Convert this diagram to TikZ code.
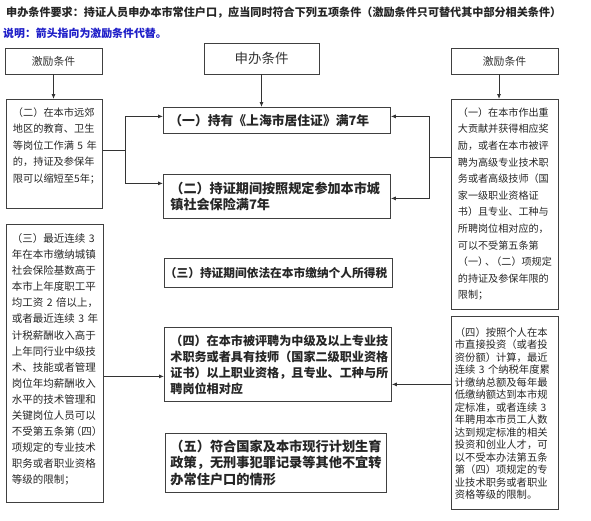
\documentclass[tikz,border=0pt]{standalone}
\usepackage{fontspec}
\setmainfont{Noto Sans CJK SC}
\usetikzlibrary{arrows.meta}
\definecolor{noteblue}{RGB}{30,30,200}
\begin{document}
\begin{tikzpicture}[x=1pt, y=-1pt,
	head/.style={draw=black!75, line width=0.8pt, minimum height=26pt, inner sep=0pt, text=black!80},
	cond/.style={draw=black!75, line width=0.8pt, anchor=north west, align=left, inner ysep=0pt, text=black!85},
	arr/.style={draw=black!80, line width=0.8pt, -{Latex[length=5pt,width=4pt]}}]
	\useasboundingbox (0,0) rectangle (591,520);
	\node[anchor=west, inner sep=0pt, text=black!85, font=\bfseries\fontsize{11.1pt}{13pt}\selectfont] (title) at (6,13) {申办条件要求：持证人员申办本市常住户口，应当同时符合下列五项条件（激励条件只可替代其中部分相关条件）};
	\node[anchor=west, inner sep=0pt, text=noteblue, font=\bfseries\fontsize{10.9pt}{13pt}\selectfont] (note) at (3,33) {说明：箭头指向为激励条件代替。};
	\node[head, minimum width=97pt, font=\fontsize{10.8pt}{13pt}\selectfont] (lhead) at (53.5,61) {激励条件};
	\node[head, minimum width=115pt, minimum height=31pt, font=\fontsize{13.5pt}{15pt}\selectfont] (mhead) at (261.5,58.5) {申办条件};
	\node[head, minimum width=107pt, font=\fontsize{10.8pt}{13pt}\selectfont] (rhead) at (504.5,61) {激励条件};
	\node[cond, inner xsep=6.5pt, text width=83pt, text height=16.9pt, text depth=92.1pt, font=\fontsize{10.2pt}{16.5pt}\selectfont] (l2) at (6,99) {（二）在本市远郊\\地区的教育、卫生\\等岗位工作满~5~年\\的，持证及参保年\\限可以缩短至5年；};
	\node[cond, inner xsep=5.5pt, text width=86pt, text height=18pt, text depth=260pt, font=\fontsize{10.5pt}{16.1pt}\selectfont] (l3) at (6,224) {（三）最近连续~3\\年在本市缴纳城镇\\社会保险基数高于\\本市上年度职工平\\均工资~2~倍以上，\\或者最近连续~3~年\\计税薪酬收入高于\\上年同行业中级技\\术、技能或者管理\\岗位年均薪酬收入\\水平的技术管理和\\关键岗位人员可以\\不受第五条第\kern-4pt（四）\\项规定的专业技术\\职务或者职业资格\\等级的限制；};
	\node[cond, inner xsep=6pt, text width=215pt, minimum height=26pt, font=\bfseries\fontsize{12.8pt}{16pt}\selectfont] (m1) at (163,107) {（一）持有《上海市居住证》满7年};
	\node[cond, inner xsep=7pt, text width=213pt, minimum height=44pt, font=\bfseries\fontsize{13.1pt}{16.7pt}\selectfont] (m2) at (163,174) {（二）持证期间按照规定参加本市城\\镇社会保险满7年};
	\node[cond, inner xsep=0.5pt, text width=227pt, minimum height=29pt, font=\bfseries\fontsize{11.7pt}{14pt}\selectfont] (m3) at (164,258) {（三）持证期间依法在本市缴纳个人所得税};
	\node[cond, inner xsep=6pt, text width=215pt, minimum height=74pt, font=\bfseries\fontsize{12.1pt}{16pt}\selectfont] (m4) at (164,327) {（四）在本市被评聘为中级及以上专业技\\术职务或者具有技师（国家二级职业资格\\证书）以上职业资格，且专业、工种与所\\聘岗位相对应};
	\node[cond, inner xsep=5pt, text width=211pt, minimum height=59pt, font=\bfseries\fontsize{13.2pt}{16.7pt}\selectfont] (m5) at (165,433) {（五）符合国家及本市现行计划生育\\政策，无刑事犯罪记录等其他不宜转\\办常住户口的情形};
	\node[cond, inner xsep=6.5pt, text width=94pt, text height=16.8pt, text depth=193.2pt, font=\fontsize{10.1pt}{16.6pt}\selectfont] (r1) at (451,99) {（一）在本市作出重\\大贡献并获得相应奖\\励，或者在本市被评\\聘为高级专业技术职\\务或者高级技师（国\\家一级职业资格证\\书）且专业、工种与\\所聘岗位相对应的，\\可以不受第五条第\\（一）\kern-3pt、\kern-4pt（二）项规定\\的持证及参保年限的\\限制；};
	\node[cond, inner xsep=3.5pt, text width=100pt, text height=19.9pt, text depth=173.1pt, font=\fontsize{10.3pt}{12.5pt}\selectfont] (r2) at (451,316) {（四）按照个人在本\\市直接投资（或者投\\资份额）计算，最近\\连续~3~个纳税年度累\\计缴纳总额及每年最\\低缴纳额达到本市规\\定标准，或者连续~3\\年聘用本市员工人数\\达到规定标准的相关\\投资和创业人才，可\\以不受本办法第五条\\第（四）项规定的专\\业技术职务或者职业\\资格等级的限制。};
	\coordinate (lj) at (125,150);
	\coordinate (rj) at (429,157);
	\coordinate (p4) at ([yshift=-12pt]m4.west);
	\coordinate (q4) at ([yshift=-20pt]m4.east);
	\draw[arr] (lhead.south) -- (lhead.south |- l2.north);
	\draw[arr] (mhead.south) -- (mhead.south |- m1.north);
	\draw[arr] ([xshift=-5.5pt]rhead.south) -- ([xshift=-5.5pt]rhead.south |- r1.north);
	\draw[draw=black!80, line width=0.8pt] (l2.east |- lj) -- (lj);
	\draw[arr] (lj) |- ([yshift=4pt]m1.west);
	\draw[arr] (lj) |- ([yshift=13pt]m2.west);
	\draw[draw=black!80, line width=0.8pt] (r1.west |- rj) -- (rj);
	\draw[arr] (rj) |- ([yshift=4pt]m1.east);
	\draw[arr] (rj) |- ([yshift=-2pt]m2.east);
	\draw[arr] (l3.east |- p4) -- (p4);
	\draw[arr] (r2.west |- q4) -- (q4);
\end{tikzpicture}
\end{document}
